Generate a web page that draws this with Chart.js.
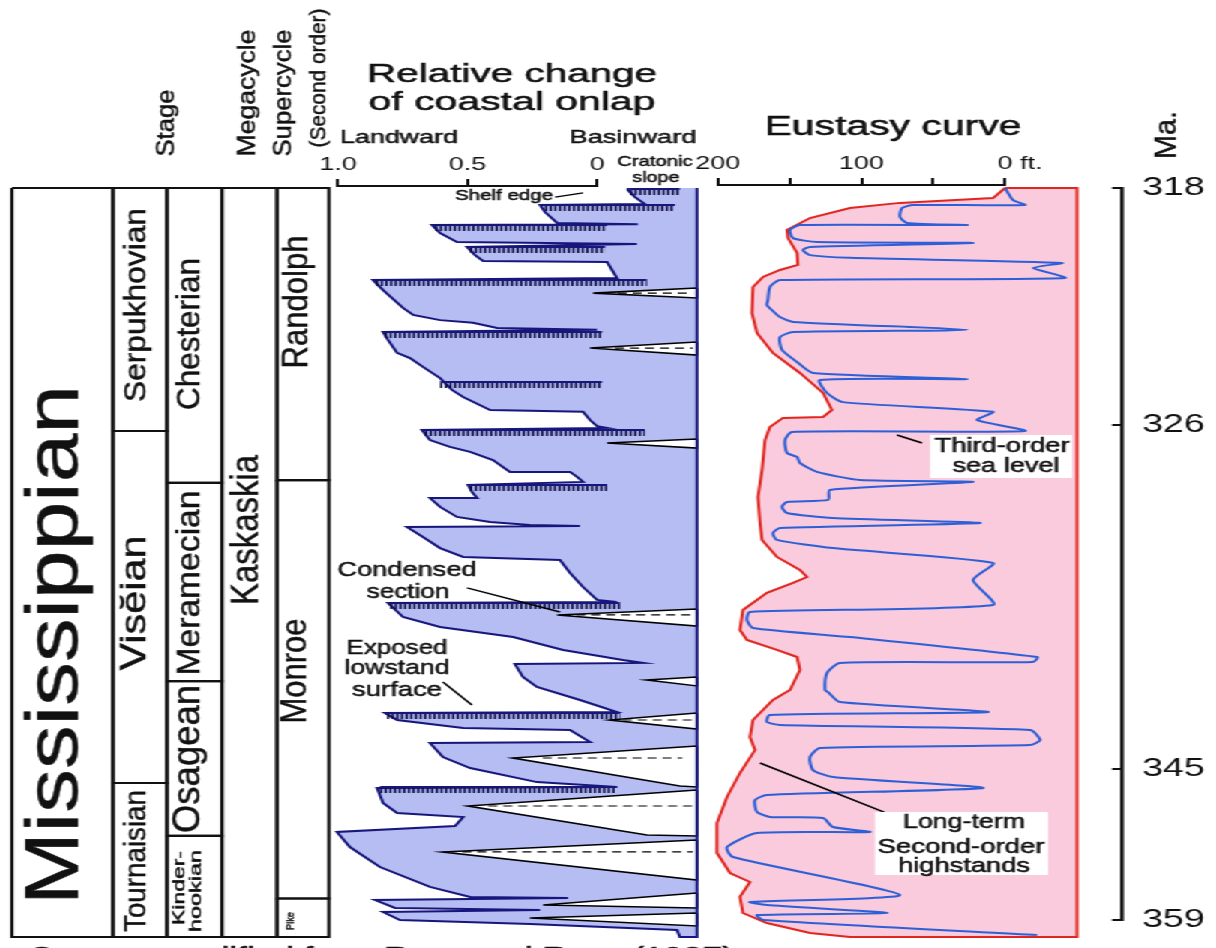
<!DOCTYPE html>
<html>
<head>
<meta charset="utf-8">
<title>Mississippian onlap and eustasy chart</title>
<script src="https://cdn.jsdelivr.net/npm/chart.js@4.4.1/dist/chart.umd.min.js"></script>
<style>
  html, body { margin: 0; padding: 0; background: #fff; }
  body { width: 1216px; height: 948px; overflow: hidden; }
  #fig { position: relative; height: 948px; transform-origin: 0 0; }
  #fig canvas { position: absolute; left: 0; top: 0; }
</style>
</head>
<body>
<div id="fig"></div>
<script>
// ---------- data ----------
// time axis (Ma) and where each tick sits down the column (0 = top, 1 = base)
const maTicks = [318, 326, 345, 359];
const maTickPos = [0, 0.3244, 0.7944, 1];

// stratigraphic column: [label, top Ma, base Ma]
const periodCells = [['Mississippian', 318, 359]];
const stageCells = [['Serpukhovian', 318, 326], ['Visĕian', 326, 345], ['Tournaisian', 345, 359]];
const seriesCells = [['Chesterian', 318, 328.8], ['Meramecian', 328.8, 339.5], ['Osagean', 339.5, 349.8], ['Kinderhookian', 349.8, 359]];
const megaCells = [['Kaskaskia', 318, 359]];
const superCells = [['Randolph', 318, 328.65], ['Monroe', 328.65, 355.5], ['Pike', 355.5, 359]];

// relative change of coastal onlap: landward edge of the onlap area, [onlap, Ma], young to old
const onlapEdge = [
  [-0.386, 318.00], [-0.120, 318.00], [-0.120, 318.07], [-0.147, 318.30], [-0.185, 318.53],
  [0.220, 318.56], [0.201, 318.79], [0.154, 319.15], [-0.158, 319.19],
  [0.637, 319.22], [0.606, 319.48], [0.541, 319.78], [-0.154, 319.84],
  [0.502, 319.94], [0.471, 320.21], [0.440, 320.40], [-0.039, 320.44], [-0.058, 320.70], [-0.077, 320.96],
  [0.865, 321.03], [0.826, 321.36], [0.749, 321.95], [0.710, 322.18], [0.606, 322.35], [0.479, 322.44], [0.386, 322.61], [0.000, 322.67],
  [0.826, 322.74], [0.807, 323.00], [0.772, 323.43], [0.722, 323.60], [0.672, 323.89], [0.606, 324.26], [0.560, 324.65], [0.517, 324.88],
  [0.413, 325.31], [0.054, 325.37], [0.027, 325.64], [0.000, 325.84], [-0.039, 325.90],
  [0.676, 325.97], [0.645, 326.49], [0.568, 326.86], [0.490, 327.13], [0.402, 327.57], [0.336, 328.21], [0.104, 328.21], [0.077, 328.48], [0.054, 328.75],
  [0.498, 328.91], [0.483, 329.29], [0.463, 329.62], [0.645, 329.62], [0.606, 330.10], [0.541, 330.64], [0.413, 330.91], [0.259, 331.07], [0.066, 331.13],
  [0.734, 331.18], [0.672, 331.72], [0.606, 332.32], [0.517, 332.80], [0.143, 332.96], [0.104, 333.66], [0.054, 334.42], [0.000, 335.12], [-0.077, 335.23],
  [0.807, 335.28], [0.749, 336.04], [0.606, 336.58], [0.324, 337.12], [0.131, 337.82], [-0.100, 338.36], [-0.178, 338.52],
  [0.317, 338.58], [0.286, 339.28], [0.232, 339.82], [0.066, 340.52], [-0.077, 341.17],
  [0.819, 341.22], [0.772, 341.60], [0.517, 342.03], [0.104, 342.14], [0.066, 342.46], [0.027, 342.79],
  [0.645, 342.84], [0.595, 343.60], [0.490, 344.19], [0.232, 344.95], [-0.077, 345.36],
  [0.849, 345.45], [0.826, 346.82], [0.772, 347.73], [0.517, 348.09], [0.548, 348.91],
  [1.004, 349.45], [0.954, 350.82], [0.838, 352.64], [0.645, 354.45], [0.490, 355.36], [0.112, 355.45],
  [0.857, 355.64], [0.780, 356.36], [0.220, 356.55], [0.826, 356.73], [0.761, 357.45], [0.259, 357.82],
  [-0.309, 358.36], [-0.320, 359.00], [-0.386, 359.00]
];
const onlapFrame = -0.386;   // cratonic slope edge of the onlap panel

// exposed lowstand surfaces (hatched): [Ma, landward onlap, basinward onlap]
const lowstandSurfaces = [
  [318.03, -0.127, -0.320], [318.56, 0.201, -0.301], [319.22, 0.625, -0.039], [319.94, 0.490, -0.031],
  [321.03, 0.853, -0.193], [322.74, 0.819, -0.019], [324.39, 0.606, -0.019], [325.97, 0.664, -0.185],
  [328.91, 0.490, -0.039], [335.28, 0.799, -0.089], [341.22, 0.811, -0.089], [345.36, 0.838, -0.077]
];

// condensed-section wedges: outline points [onlap, Ma]
const condensedWedges = [
  [[-0.386, 321.29], [0.015, 321.46], [-0.386, 321.62]],
  [[-0.386, 323.07], [0.027, 323.27], [-0.386, 323.50]],
  [[-0.386, 326.43], [-0.039, 326.65], [-0.386, 326.92]],
  [[-0.386, 335.61], [0.154, 335.93], [-0.386, 336.53]],
  [[-0.386, 339.28], [-0.193, 339.44], [-0.386, 339.76]],
  [[-0.386, 341.22], [-0.050, 341.60], [-0.386, 342.09]],
  [[-0.386, 343.00], [0.324, 343.65], [-0.320, 345.27], [-0.386, 345.36]],
  [[-0.386, 345.64], [0.498, 347.09], [-0.193, 349.73], [-0.386, 349.82]],
  [[-0.386, 350.18], [0.595, 351.27], [-0.386, 353.82]],
  [[-0.386, 355.00], [0.208, 356.09], [-0.386, 356.36]],
  [[-0.386, 356.82], [0.259, 357.27], [-0.386, 358.00]]
];
// dashed axes of the wedges: [Ma, from, to]
const wedgeAxes = [
  [321.46, -0.08, -0.37], [323.27, -0.07, -0.37], [335.93, 0.08, -0.37], [341.60, -0.10, -0.37],
  [343.65, 0.21, -0.33], [347.09, 0.42, -0.37], [351.27, 0.52, -0.37]
];

// eustasy curve, feet above present (positive = left)
const longTerm = [
  [0, 318.00], [8.4, 318.33], [73.2, 318.49], [108.0, 318.66], [135.9, 318.99], [151.9, 319.38], [151.2, 319.65],
  [144.9, 320.14], [144.3, 320.53], [156.8, 320.70], [168.6, 320.93], [175.6, 321.26], [176.3, 322.12], [172.8, 322.77],
  [161.7, 323.43], [142.9, 324.09], [126.8, 324.75], [120.6, 325.31], [126.8, 325.54], [154.7, 325.57], [163.8, 325.87],
  [167.2, 326.49], [169.3, 328.11], [172.1, 329.56], [170.7, 330.97], [169.3, 331.88], [158.9, 332.80], [142.9, 333.50],
  [138.0, 333.88], [147.7, 334.20], [165.9, 334.74], [182.6, 335.66], [184.7, 336.74], [179.8, 337.28], [158.9, 337.82],
  [144.9, 338.20], [142.9, 338.90], [149.8, 339.98], [161.7, 340.52], [175.6, 341.60], [177.7, 342.52], [174.2, 343.22],
  [184.7, 344.46], [193.7, 346.27], [200.7, 348.64], [200.7, 351.36], [191.6, 353.18], [177.7, 354.00], [184.7, 355.36],
  [182.6, 356.82], [165.9, 357.73], [135.9, 358.64], [108.0, 359.00]
];
const thirdOrder = [
  [0, 318.00], [-5.6, 318.40], [-13.9, 318.56], [64.1, 318.56], [71.8, 318.66], [73.2, 318.95], [68.3, 319.15], [26.5, 319.22],
  [142.9, 319.22], [149.8, 319.38], [147.7, 319.65], [131.0, 319.78], [22.3, 319.81],
  [135.9, 319.94], [140.8, 320.04], [135.9, 320.21], [108.0, 320.30], [-39.7, 320.47], [-19.5, 320.63], [-41.8, 320.96],
  [156.8, 321.03], [163.8, 321.26], [165.2, 321.69], [165.9, 321.85], [162.4, 322.02], [156.8, 322.25], [147.7, 322.41], [26.5, 322.67],
  [147.7, 322.74], [156.8, 322.91], [155.4, 323.33], [144.9, 323.73], [133.8, 324.09], [26.5, 324.29],
  [128.9, 324.32], [124.0, 324.75], [112.9, 325.05], [8.4, 325.37], [19.5, 325.64], [-13.9, 326.00],
  [148.4, 326.05], [153.3, 326.49], [151.9, 327.19], [144.9, 327.40], [142.9, 327.73], [131.0, 328.21], [101.0, 328.65], [22.3, 328.75],
  [122.0, 329.18], [123.3, 329.72], [151.9, 329.83], [155.4, 330.10], [151.9, 330.43], [119.9, 330.70], [17.4, 330.97],
  [156.8, 331.24], [161.7, 331.51], [158.9, 331.88], [119.9, 332.32], [8.4, 333.12], [22.3, 334.04], [8.4, 335.39],
  [177.7, 335.77], [179.8, 336.20], [175.6, 336.63], [108.0, 337.12], [-22.3, 338.20], [-19.5, 338.47],
  [115.0, 338.52], [124.0, 339.06], [125.4, 339.98], [123.3, 340.09], [115.0, 340.63], [11.8, 341.17],
  [163.8, 341.33], [165.9, 341.71], [156.8, 341.87], [-17.4, 342.14], [-24.4, 342.68], [-17.4, 342.95],
  [128.9, 343.11], [135.9, 343.60], [133.8, 344.30], [119.9, 344.68], [15.3, 345.45],
  [165.9, 346.09], [174.2, 346.55], [172.8, 347.64], [163.8, 348.09], [126.8, 348.18], [119.9, 349.00], [94.1, 349.45],
  [172.8, 349.55], [193.7, 350.82], [189.5, 351.73], [73.2, 355.18],
  [177.7, 355.82], [165.9, 356.09], [82.2, 356.82], [172.8, 357.00], [168.6, 357.45], [-22.3, 358.82]
];
const eustasyFrame = -50.2;   // right edge of the eustasy panel, ft

// leader lines of the annotations: [[x, Ma], [x, Ma]]
const onlapLeaders = [
  [[0.162, 318.30], [0.054, 318.16]],
  [[0.502, 334.47], [0.143, 335.77]],
  [[0.595, 339.55], [0.483, 340.79]]
];
const eustasyLeaders = [
  [[75.3, 326.22], [57.8, 326.65]],
  [[170.7, 343.92], [84.3, 347.64]]
];

// ---------- layout (screen px of the 1216 x 948 picture) ----------
const SX = 1216 / 811;          // the figure is stretched sideways
const LW = 811, H = 948;
const sx = v => v / SX;
const TOP = 188, BASE = 937;
const ON0 = 597, ONK = 259;     // onlap 0 at px 597, 259 px per unit
const EU0 = 1005, EUK = 1.435;  // 0 ft at px 1005, px per ft
const colLeft = 12, colEdges = [0, 101, 155, 210, 265, 317];

const NAVY = '#16167c', ONLAP_FILL = '#b5bdf3', PINK = '#f9cbdc', RED = '#e0261f', BLUE = '#2d5fd6', INK = '#111';
const FONT = '"Liberation Sans", Arial, Helvetica, sans-serif';

// free text: [text, x, y, size, length, rotated]
const textItems = [
  ['Stage', 167, 123, 25, 67, 1],
  ['Megacycle', 248, 93, 26, 127, 1],
  ['Supercycle', 284, 93, 26, 127, 1],
  ['(Second order)', 320, 78, 21, 139, 1],
  ['Mississippian', 57, 645, 74, 520, 1],
  ['Serpukhovian', 137, 305, 29, 194, 1],
  ['Visĕian', 136, 603, 36, 135, 1],
  ['Tournaisian', 137, 861, 30, 142, 1],
  ['Chesterian', 190, 334, 33, 152, 1],
  ['Meramecian', 190, 583, 33, 185, 1],
  ['Osagean', 188, 759, 40, 148, 1],
  ['Kinder-', 179, 888, 17, 74, 1],
  ['hookian', 196, 891, 17, 82, 1],
  ['Kaskaskia', 248, 530, 38, 150, 1],
  ['Randolph', 297, 302, 36, 133, 1],
  ['Monroe', 296, 671, 36, 105, 1],
  ['Pike', 291, 921, 12, 18, 1],
  ['Ma.', 1168, 135, 30, 48, 1],
  ['Relative change', 512, 75, 25, 290, 0],
  ['of coastal onlap', 512, 103, 25, 287, 0],
  ['Landward', 399, 138, 19, 118, 0],
  ['Basinward', 633, 138, 19, 127, 0],
  ['Cratonic', 655, 162, 15, 75, 0],
  ['slope', 656, 178, 15, 47, 0],
  ['Shelf edge', 504, 196, 15, 98, 0],
  ['Eustasy curve', 893, 128, 27, 257, 0],
  ['Condensed', 407, 570, 21, 139, 0],
  ['section', 408, 592, 21, 83, 0],
  ['Exposed', 397, 648, 21, 101, 0],
  ['lowstand', 397, 668, 21, 105, 0],
  ['surface', 397, 690, 21, 90, 0],
  ['Third-order', 1002, 446, 20, 135, 0],
  ['sea level', 1006, 466, 20, 107, 0],
  ['Long-term', 964, 822, 20, 122, 0],
  ['Second-order', 961, 847, 20, 167, 0],
  ['highstands', 964, 866, 20, 132, 0],
  ['Source: modified from Ross and Ross (1987)', 382, 958, 23, 704, 0]
];
const whiteBoxes = [[930, 435, 1072, 478], [875, 812, 1048, 875]];

// ---------- piecewise time scale ----------
function maFrac(v) {
  let i = 1;
  while (i < maTicks.length - 1 && v > maTicks[i]) i++;
  const t = (v - maTicks[i - 1]) / (maTicks[i] - maTicks[i - 1]);
  return maTickPos[i - 1] + t * (maTickPos[i] - maTickPos[i - 1]);
}
function fracMa(f) {
  let i = 1;
  while (i < maTickPos.length - 1 && f > maTickPos[i]) i++;
  const t = (f - maTickPos[i - 1]) / (maTickPos[i] - maTickPos[i - 1]);
  return maTicks[i - 1] + t * (maTicks[i] - maTicks[i - 1]);
}
class TimeScale extends Chart.LinearScale {
  static id = 'timescale';
  static defaults = Chart.LinearScale.defaults;
  getPixelForValue(v) { return this.top + (this.bottom - this.top) * maFrac(v); }
  getValueForPixel(p) { return fracMa((p - this.top) / (this.bottom - this.top)); }
}
Chart.register(TimeScale);

// ---------- helpers ----------
const fig = document.getElementById('fig');
fig.style.width = LW + 'px';
fig.style.transform = 'scaleX(' + SX + ')';

function canvas() {
  const c = document.createElement('canvas');
  c.width = LW; c.height = H;
  fig.appendChild(c);
  return c.getContext('2d');
}
function area(x0, x1, y0, y1) {
  return { left: sx(x0), right: LW - sx(x1), top: y0, bottom: H - y1 };
}
function path(points, style) {
  return Object.assign({
    data: points.map(p => ({ x: p[0], y: p[1] })),
    showLine: true, pointRadius: 0, borderWidth: 2, borderColor: INK,
    fill: false, tension: 0, clip: 8
  }, style);
}
function opts(padding, scales, extra) {
  return Object.assign({
    responsive: false, animation: false, events: [],
    layout: { padding },
    plugins: { legend: { display: false }, tooltip: { enabled: false } },
    scales
  }, extra || {});
}
const timeAxis = { type: 'timescale', display: false, min: 318, max: 359 };

// shift the hatch comb just under its surface line
const combShift = {
  id: 'combShift',
  beforeDatasetDraw(chart, args) {
    if (chart.data.datasets[args.index].comb) { chart.ctx.save(); chart.ctx.translate(0, 3.5); }
  },
  afterDatasetDraw(chart, args) {
    if (chart.data.datasets[args.index].comb) chart.ctx.restore();
  }
};

// ---------- stratigraphic column ----------
const columns = [periodCells, stageCells, seriesCells, megaCells, superCells];
const colSets = [];
columns.forEach((cells, c) => {
  cells.forEach(cell => {
    const x0 = colEdges[c], x1 = colEdges[c + 1];
    colSets.push(path([[x0, cell[1]], [x1, cell[1]], [x1, cell[2]], [x0, cell[2]], [x0, cell[1]]],
      { borderWidth: 2.2 }));
  });
});
new Chart(canvas(), {
  type: 'scatter',
  data: { datasets: colSets },
  options: opts(area(colLeft, colLeft + colEdges[5], TOP, BASE), {
    x: { type: 'linear', display: false, min: 0, max: colEdges[5] },
    y: timeAxis
  })
});

// ---------- onlap panel ----------
const onlapSets = [];
onlapSets.push(path(onlapEdge, { fill: 'shape', backgroundColor: ONLAP_FILL, borderWidth: 0, order: 9 }));
condensedWedges.forEach(w => onlapSets.push(path([...w, w[0]],
  { fill: 'shape', backgroundColor: '#fff', borderColor: '#000', borderWidth: 1.6, order: 7 })));
wedgeAxes.forEach(a => onlapSets.push(path([[a[1], a[0]], [a[2], a[0]]],
  { borderDash: [6, 4], borderWidth: 1.2, borderColor: '#000', order: 6 })));
onlapSets.push(path([...onlapEdge.slice(1), [onlapFrame, 318]], { borderColor: NAVY, borderWidth: 2, order: 4 }));
lowstandSurfaces.forEach(s => {
  onlapSets.push(path([[s[1], s[0]], [s[2], s[0]]], { borderColor: NAVY, borderWidth: 2, order: 3 }));
  onlapSets.push(path([[s[1], s[0]], [s[2], s[0]]],
    { borderColor: '#0b0b40', borderWidth: 5, borderDash: [1.5, 1.6], borderCapStyle: 'butt', comb: true, order: 3 }));
});
onlapLeaders.forEach(l => onlapSets.push(path(l, { borderColor: '#000', borderWidth: 1.5, order: 1 })));

const onlapMin = -0.40, onlapMax = 1.03;
new Chart(canvas(), {
  type: 'scatter',
  data: { datasets: onlapSets },
  options: opts(area(ON0 - onlapMax * ONK, ON0 - onlapMin * ONK, TOP, BASE), {
    x: { type: 'linear', display: false, reverse: true, min: onlapMin, max: onlapMax },
    y: timeAxis
  }),
  plugins: [combShift]
});

// onlap axis (1.0 ... 0)
const AXH = 40;
new Chart(canvas(), {
  type: 'scatter',
  data: { datasets: [] },
  options: opts({ left: sx(ON0 - ONK), right: LW - sx(ON0), top: 186 - AXH, bottom: H - 192 }, {
    x: {
      type: 'linear', position: 'top', reverse: true, min: 0, max: 1,
      afterFit: s => { s.height = AXH; },
      border: { display: true, color: INK, width: 2 },
      grid: { drawOnChartArea: false, tickLength: 7, color: INK, lineWidth: 2 },
      ticks: { stepSize: 0.5, padding: 3, color: INK, maxRotation: 0, autoSkip: false,
        font: { family: FONT, size: 18 }, callback: v => v === 0 ? '0' : v.toFixed(1) }
    },
    y: { display: false }
  })
});

// ---------- eustasy panel ----------
const euMin = -52, euMax = 205;
new Chart(canvas(), {
  type: 'scatter',
  data: { datasets: [
    path([...longTerm, [eustasyFrame, 359], [eustasyFrame, 318], [0, 318]],
      { fill: 'shape', backgroundColor: PINK, borderColor: RED, borderWidth: 2, order: 5 }),
    path(thirdOrder, { borderColor: BLUE, borderWidth: 2, tension: 0.2, order: 3 }),
    ...eustasyLeaders.map(l => path(l, { borderColor: '#000', borderWidth: 1.5, order: 1 }))
  ] },
  options: opts(area(EU0 - euMax * EUK, EU0 - euMin * EUK, TOP, BASE), {
    x: { type: 'linear', display: false, reverse: true, min: euMin, max: euMax },
    y: timeAxis
  })
});

// eustasy axis (200 ... 0 ft.)
new Chart(canvas(), {
  type: 'scatter',
  data: { datasets: [] },
  options: opts({ left: sx(EU0 - 200 * EUK), right: LW - sx(EU0), top: 185 - AXH, bottom: H - 191 }, {
    x: {
      type: 'linear', position: 'top', reverse: true, min: 0, max: 200,
      afterFit: s => { s.height = AXH; },
      border: { display: true, color: INK, width: 2 },
      grid: { drawOnChartArea: false, tickLength: 7, color: INK, lineWidth: 2 },
      ticks: { stepSize: 50, padding: 3, color: INK, maxRotation: 0, autoSkip: false,
        font: { family: FONT, size: 18 },
        callback: v => v === 0 ? '    0 ft.' : (v % 100 === 0 ? String(v) : '') }
    },
    y: { display: false }
  })
});

// ---------- Ma axis and all free text ----------
const figureText = {
  id: 'figureText',
  afterDraw(chart) {
    const ctx = chart.ctx;
    ctx.save();
    ctx.fillStyle = '#fff';
    whiteBoxes.forEach(b => ctx.fillRect(sx(b[0]), b[1], sx(b[2] - b[0]), b[3] - b[1]));
    ctx.fillStyle = INK;
    ctx.strokeStyle = INK;
    ctx.lineWidth = 0.5;
    ctx.textAlign = 'center';
    ctx.textBaseline = 'middle';
    textItems.forEach(([t, x, y, size, len, rot]) => {
      ctx.save();
      ctx.translate(sx(x), y);
      ctx.scale(1 / SX, 1);
      if (rot) ctx.rotate(-Math.PI / 2);
      ctx.font = size + 'px ' + FONT;
      ctx.scale(len / ctx.measureText(t).width, 1);
      ctx.fillText(t, 0, 0);
      ctx.strokeText(t, 0, 0);
      ctx.restore();
    });
    ctx.restore();
  }
};
const MAW = 60;
new Chart(canvas(), {
  type: 'scatter',
  data: { datasets: [] },
  options: opts({ left: sx(1112), right: LW - sx(1122) - MAW, top: TOP, bottom: H - BASE }, {
    x: { type: 'linear', display: false },
    y: {
      type: 'timescale', position: 'right', min: 318, max: 359,
      afterBuildTicks: s => { s.ticks = maTicks.map(v => ({ value: v })); },
      afterFit: s => { s.width = MAW; },
      border: { display: true, color: INK, width: 2.5 },
      grid: { drawOnChartArea: true, drawTicks: false, color: INK, lineWidth: 2 },
      ticks: { padding: sx(20), color: INK, autoSkip: false, font: { family: FONT, size: 25 } }
    }
  }),
  plugins: [figureText]
});
</script>
</body>
</html>
